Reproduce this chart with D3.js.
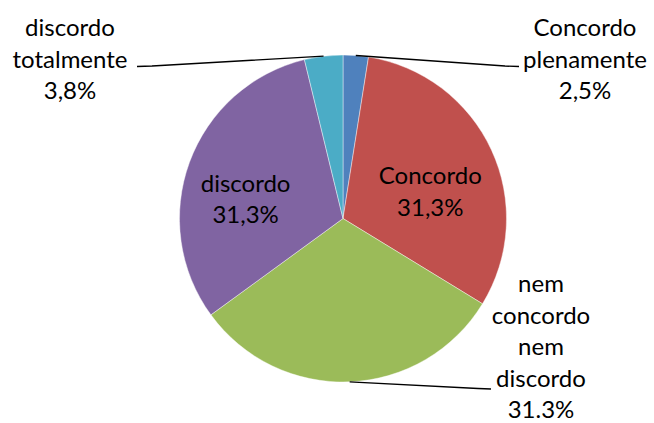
<!DOCTYPE html>
<html>
<head>
<meta charset="utf-8">
<script src="https://cdn.jsdelivr.net/npm/d3@7"></script>
<style>
  body { margin: 0; background: #fff; }
  text { font-family: Lato, "Open Sans", sans-serif; font-size: 24px; fill: #000; }
</style>
</head>
<body>
<div class="pie"></div>
<script>
// data
const categories = ['Concordo plenamente', 'Concordo', 'nem concordo nem discordo', 'discordo', 'discordo totalmente']
const values = [2.5, 31.3, 31.3, 31.3, 3.8]
const labelLines = [
  ['Concordo', 'plenamente', '2,5%'],
  ['Concordo', '31,3%'],
  ['nem', 'concordo', 'nem', 'discordo', '31.3%'],
  ['discordo', '31,3%'],
  ['discordo', 'totalmente', '3,8%']
]
const colors = ['#4F81BD', '#C0504D', '#9BBB59', '#8064A2', '#4BACC6']

const width = 654
const height = 423
const cx = 343, cy = 218.5, R = 163.5
const lineH = 31.5

// outside labels: where the text block sits and where the leader ends
const outside = {
  0: {x: 585, y: 36, bend: [505, 66], end: [519, 66.5]},
  2: {x: 541, y: 292, bend: [478, 388.5], end: [491, 389]},
  4: {x: 70, y: 36, bend: [152, 66], end: [137, 66.5]}
}

const data = categories.map((c, i) => ({name: c, value: values[i], lines: labelLines[i], i: i}))

const svg = d3.select('.pie')
  .append('svg')
  .attr('width', width)
  .attr('height', height)

const g = svg.append('g').attr('transform', `translate(${cx},${cy})`)

const pie = d3.pie().sort(null).value(d => d.value)
const arcs = pie(data)
const arc = d3.arc().innerRadius(0).outerRadius(R)
const labelArc = d3.arc().innerRadius(100).outerRadius(100)
const edgeArc = d3.arc().innerRadius(R).outerRadius(R)

g.selectAll('path')
  .data(arcs)
  .enter()
  .append('path')
  .attr('d', arc)
  .attr('fill', d => colors[d.data.i])
  .attr('stroke', 'rgba(255,255,255,0.6)')
  .attr('stroke-width', 0.7)

// leader lines
arcs.filter(d => outside[d.data.i]).forEach(d => {
  const o = outside[d.data.i]
  const p = edgeArc.centroid(d)
  svg.append('polyline')
    .attr('points', [[p[0] + cx, p[1] + cy], o.bend, o.end].map(q => q.join(',')).join(' '))
    .attr('fill', 'none')
    .attr('stroke', '#000')
    .attr('stroke-width', 1.4)
})

// labels
arcs.forEach(d => {
  let x, y
  const o = outside[d.data.i]
  if (o) {
    x = o.x
    y = o.y
  } else {
    const c = labelArc.centroid(d)
    x = c[0] + cx - 3.5
    y = c[1] + cy + 7.5
  }
  const t = svg.append('text')
    .attr('text-anchor', 'middle')
  d.data.lines.forEach((s, k) => {
    t.append('tspan')
      .attr('x', x)
      .attr('y', y + k * lineH)
      .text(s)
  })
})
</script>
</body>
</html>
